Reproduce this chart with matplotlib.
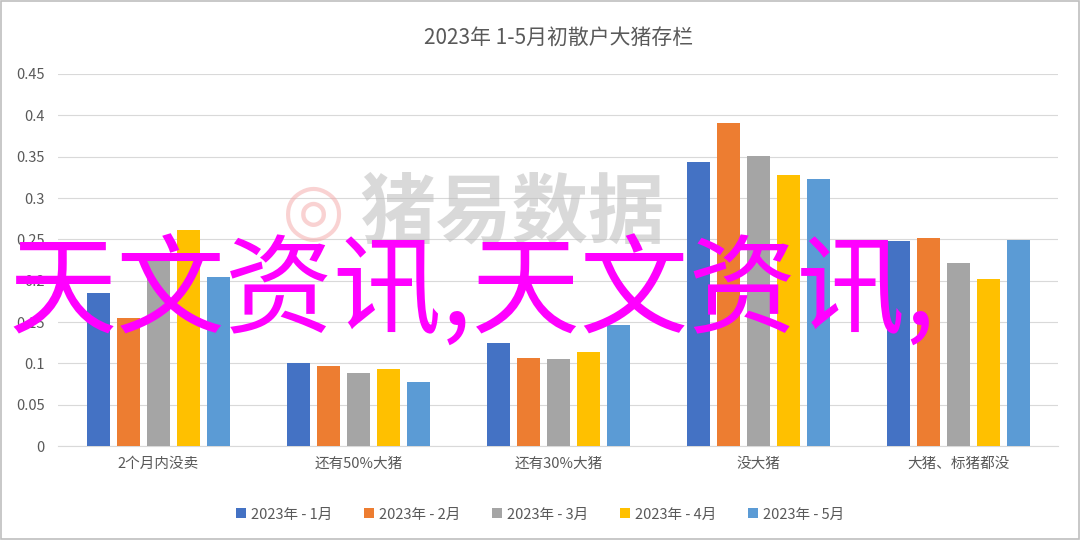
import matplotlib
matplotlib.use("Agg")
import matplotlib.pyplot as plt
import numpy as np

plt.rcParams['font.family'] = ['Noto Sans CJK SC', 'DejaVu Sans']

categories = ["2个月内没卖", "还有50%大猪", "还有30%大猪", "没大猪", "大猪、标猪都没"]
series_names = ["2023年 - 1月", "2023年 - 2月", "2023年 - 3月", "2023年 - 4月", "2023年 - 5月"]
jan = [0.185, 0.100, 0.125, 0.344, 0.248]
feb = [0.155, 0.097, 0.106, 0.391, 0.252]
mar = [0.226, 0.088, 0.105, 0.351, 0.221]
apr = [0.261, 0.093, 0.114, 0.328, 0.202]
may = [0.204, 0.077, 0.146, 0.323, 0.249]
yticks = [0, 0.05, 0.1, 0.15, 0.2, 0.25, 0.3, 0.35, 0.4, 0.45]
ytick_labels = ["0", "0.05", "0.1", "0.15", "0.2", "0.25", "0.3", "0.35", "0.4", "0.45"]

colors = ["#4472C4", "#ED7D31", "#A5A5A5", "#FFC000", "#5B9BD5"]

fig = plt.figure(figsize=(10.8, 5.4), dpi=100)
ax = fig.add_axes([0.054, 0.174, 0.926, 0.689])

x = np.arange(len(categories))
step = 0.15
width = 0.118
all_series = [jan, feb, mar, apr, may]
for i, vals in enumerate(all_series):
    ax.bar(x + (i - 2) * step, vals, width, color=colors[i], label=series_names[i], zorder=3)

ax.set_xlim(-0.5, len(categories) - 0.5)
ax.set_ylim(0, 0.45)
ax.set_yticks(yticks)
ax.set_yticklabels(ytick_labels)
ax.set_xticks(x)
ax.set_xticklabels(categories)
ax.tick_params(axis='both', length=0, colors="#595959", labelsize=10.5)
ax.tick_params(axis='y', pad=10)
ax.tick_params(axis='x', pad=8)
ax.grid(axis='y', color="#D9D9D9", linewidth=0.8, zorder=0)
for s in ["top", "right", "left"]:
    ax.spines[s].set_visible(False)
ax.spines["bottom"].set_color("#D9D9D9")

ax.set_title("2023年 1-5月初散户大猪存栏", fontsize=15, color="#595959", pad=22)

leg = fig.legend(loc="lower center", bbox_to_anchor=(0.5, 0.01), ncol=5, frameon=False,
                 fontsize=10.5, handlelength=0.7, handleheight=0.7, columnspacing=2.2,
                 handletextpad=0.3)
for t in leg.get_texts():
    t.set_color("#595959")

# watermark
fig.text(0.333, 0.605, "猪易数据", fontsize=55, color="#BBBBBB", alpha=0.55,
         ha="left", va="center", fontweight="bold")
fig.text(0.29, 0.605, "◎", fontsize=52, color="#F4A6A6", alpha=0.5, ha="center", va="center",
         family=['DejaVu Sans'])

# overlay text
fig.text(0.008, 0.455, "天文资讯,天文资讯,", fontsize=78, color="#FF00FF",
         ha="left", va="center", zorder=10, fontweight="medium")

# border
fig.patches.append(plt.Rectangle((0.001, 0.001), 0.998, 0.998, transform=fig.transFigure,
                                 fill=False, edgecolor="#BFBFBF", linewidth=1.2))

fig.savefig("out.png", dpi=100)
